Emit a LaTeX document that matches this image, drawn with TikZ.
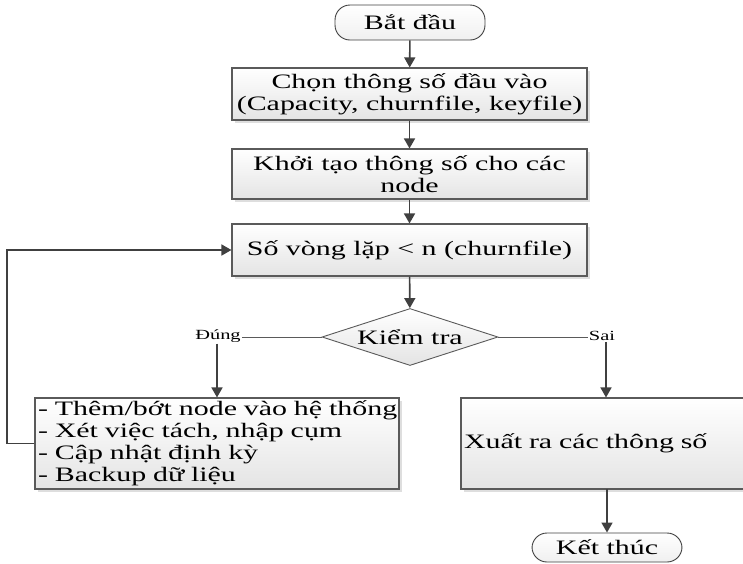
\documentclass[tikz,border=0pt]{standalone}
\usepackage{fontspec}
\setmainfont{Liberation Serif}[FakeStretch=1.46]
\usetikzlibrary{shapes.geometric,arrows.meta,shadows}

\definecolor{edgegray}{HTML}{404040}
\definecolor{framegray}{HTML}{5A5A5A}
\definecolor{fillbottom}{HTML}{E4E4E4}

\tikzset{
  boxtext/.style={font=\fontsize{20.5}{22}\selectfont},
  shade/.style={top color=white, bottom color=fillbottom},
  procbox/.style={rectangle, draw=framegray, line width=1.1pt, shade,
    drop shadow={shadow xshift=3pt, shadow yshift=-3pt, fill=black, opacity=0.13},
    inner sep=0pt, align=center, boxtext},
  listbox/.style={procbox, align=left, inner xsep=3pt},
  terminal/.style={rectangle, rounded corners=15pt, draw=edgegray, line width=0.9pt,
    top color=white, bottom color=black!6, inner sep=0pt, boxtext},
  decision/.style={diamond, aspect=3, draw=framegray, line width=0.9pt, shade,
    inner sep=0pt, boxtext},
  flow/.style={draw=edgegray, line width=1.6pt, -{Triangle[length=10pt,width=11pt]}},
  branch/.style={draw=framegray, line width=1pt},
  branchlabel/.style={font=\fontsize{14}{15}\selectfont, inner sep=1pt}
}

\begin{document}
\begin{tikzpicture}[x=1pt, y=-1pt]
  \clip (0,0) rectangle (743,563);

  % main column
  \node[terminal, minimum width=150pt, minimum height=35pt] (start) at (410,22.5) {Bắt đầu};
  \node[procbox, minimum width=355pt, minimum height=52pt] (input) at (409.5,94)
    {Chọn thông số đầu vào\\(Capacity, churnfile, keyfile)};
  \node[procbox, minimum width=355pt, minimum height=50pt] (init) at (409.5,174)
    {Khởi tạo thông số cho các\\node};
  \node[procbox, minimum width=355pt, minimum height=52pt] (loop) at (409.5,250)
    {Số vòng lặp < n (churnfile)};
  \node[decision, minimum width=176pt, minimum height=57pt] (check) at (410,337) {Kiểm tra};

  % branch labels
  \node[branchlabel] (yes) at (218,336) {Đúng};
  \node[branchlabel] (no) at (602,336) {Sai};

  % branch bodies (each list line kept on one row)
  \node[listbox, minimum width=364pt, minimum height=91pt, text width=358pt] (work) at (217,443.5)
    {\mbox{- Thêm/bớt node vào hệ thống}\\\mbox{- Xét việc tách, nhập cụm}\\\mbox{- Cập nhật định kỳ}\\\mbox{- Backup dữ liệu}};
  \node[listbox, minimum width=290pt, minimum height=91pt, text width=284pt] (output) at (606,443.5)
    {Xuất ra các thông số};
  \node[terminal, minimum width=150pt, minimum height=29pt] (stop) at (607,547.5) {Kết thúc};

  \coordinate (back) at (7,443.5);

  % connectors
  \draw[flow] (start) -- (input);
  \draw[flow] (input) -- (init);
  \draw[flow] (init) -- (loop);
  \draw[flow] (loop) -- (check);
  \draw[branch] (check.west) -- (check.west -| yes.east);
  \draw[branch] (check.east) -- (check.east -| no.west);
  \draw[flow] (yes.south -| work.north) -- (work.north);
  \draw[flow] (no.south -| output.north) -- (output.north);
  \draw[flow] (output.south) -- (output.south -| stop.north) -- (stop.north);
  \draw[flow] (work.west) -- (work.west -| back) |- (loop.west);
\end{tikzpicture}
\end{document}
